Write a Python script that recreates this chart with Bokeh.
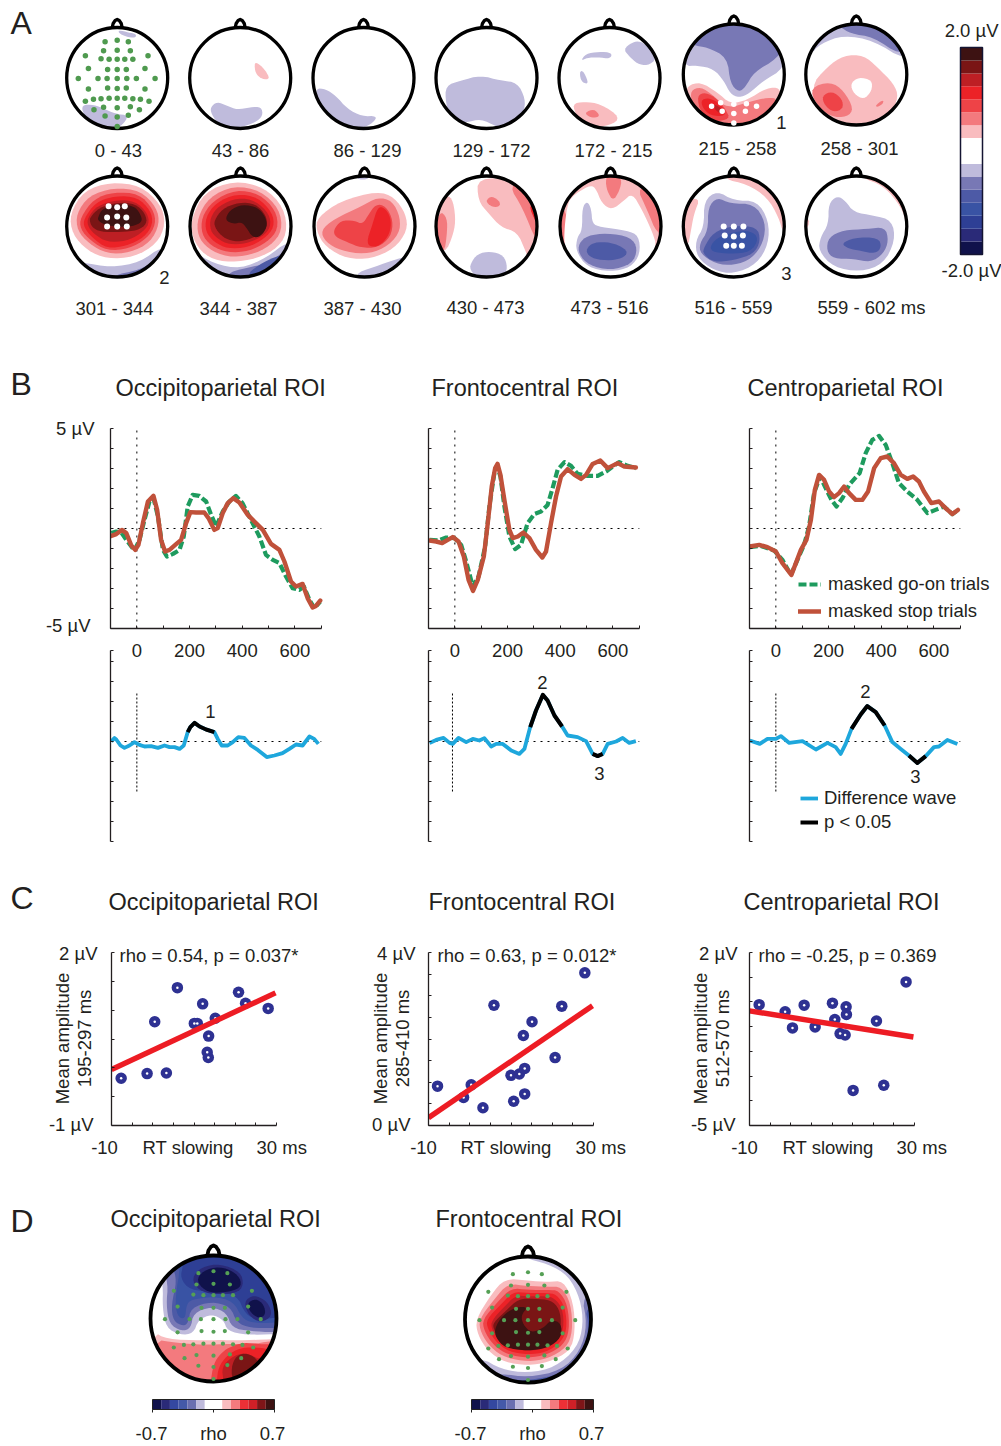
import numpy as np
from bokeh.plotting import figure
from bokeh.layouts import row, column
from bokeh.models import Range1d, LinearAxis, FixedTicker, Label, Legend, LegendItem, Spacer
from bokeh.core.properties import value
from bokeh.embed import file_html
from bokeh.resources import INLINE

FONT = "Liberation Sans"
INK = "#231f20"

# ---------- colour scale ----------
PAL = ["#10124b", "#2a2a78", "#2e3f95", "#3953a4", "#4d5aa6", "#7878b5", "#bfbbdc", "#ffffff",
       "#ffffff", "#f9bcbf", "#f37a7e", "#ee4347", "#ec2227", "#bd1f24", "#7a1515", "#3d1212"]
NVY, BL1, BL2, BL3, BL4, PUR, LIL, WHT, _W, PNK, SAL, RD1, RD2, RD3, RD4, RD5 = range(16)
BAR_EDGES = [-2.0, -1.75, -1.5, -1.25, -1.0, -0.75, -0.5, -0.25, 0.0, 0.25, 0.5, 0.75, 1.0, 1.25, 1.5, 1.75, 2.0]
RHO_EDGES = [-0.7, -0.6, -0.5, -0.4, -0.3, -0.2, -0.1, 0.0, 0.1, 0.2, 0.3, 0.4, 0.5, 0.6, 0.7]
RHO_PAL = ["#10124b", "#2a2a78", "#3448a0", "#4459a8", "#6a6fb0", "#bfbbdc", "#ffffff",
           "#ffffff", "#f9bcbf", "#f37a7e", "#ec3036", "#cf2027", "#7f1518", "#3d1212"]

# ---------- electrodes (head units) ----------
ELEC_X = [-.24, 0, .22, -.27, 0, .26, -.63, -.32, -.16, 0, .15, .31, .61, -.57, -.19, 0, .18, .55,
          -.77, -.38, -.2, 0, .19, .38, .75, -.57, -.19, 0, .18, .55, -.63, -.47, -.32, -.16, 0, .15, .31, .46, .63,
          -.46, -.27, 0, .26, .44, -.24, 0, .22, 0]
ELEC_Y = [.72, .75, .72, .54, .55, .54, .44, .38, .37, .37, .37, .37, .44, .19, .17, .17, .17, .19,
          -.01, -.01, -.01, -.01, -.01, -.01, -.01, -.22, -.2, -.21, -.2, -.22, -.46, -.42, -.41, -.40, -.40, -.40, -.41, -.42, -.46,
          -.63, -.58, -.59, -.57, -.63, -.75, -.77, -.74, -.96]
SIG1_X = [-.44, -.26, 0, .25, .45, -.23, 0, .23, 0]
SIG1_Y = [-.63, -.56, -.59, -.58, -.63, -.73, -.77, -.73, -.96]
SIG2_X = [-.17, 0, .15, -.2, 0, .18, -.2, 0, .19]
SIG2_Y = [.4, .38, .4, .18, .2, .18, 0, 0, 0]
SIG3_X = [-.2, 0, .19, -.18, 0, .18, -.15, 0, .16]
SIG3_Y = [0, 0, 0, -.18, -.2, -.18, -.38, -.38, -.38]
NOSE_X = [-.1, -.08, -.04, 0, .04, .08, .1]
NOSE_Y = [.99, 1.08, 1.14, 1.16, 1.14, 1.08, .99]

# ---------- scalp maps: contour outlines ----------
M_0_43 = [(LIL, [(-.71,-.53),(-.46,-.53),(-.26,-.61),(-.03,-.71),(.23,-.74),(.10,-.94),(-.07,-1.0),(-.40,-.94),(-.66,-.75)]),
          (LIL, [(.03,.95),(.23,.90),(.38,.87),(.36,.79),(.17,.82),(.03,.89)])]
M_43_86 = [(PNK, [(.28,.31),(.37,.28),(.50,.15),(.59,-.02),(.44,-.03),(.30,.09)]),
           (LIL, [(-.59,-.58),(-.46,-.47),(-.26,-.55),(-.06,-.63),(.2,-.58),(.42,-.57),(.45,-.75),(.30,-.88),(.01,-.98),(-.26,-.96),(-.46,-.88),(-.57,-.71)])]
M_86_129 = [(LIL, [(-.95,-.20),(-.75,-.22),(-.55,-.35),(-.32,-.61),(-.03,-.76),(.27,-.75),(.2,-.88),(-.03,-1.0),(-.32,-.97),(-.69,-.78),(-.92,-.51)])]
M_129_172 = [(LIL, [(-.81,-.15),(-.51,-.05),(-.12,.05),(.28,-.05),(.61,-.09),(.77,-.41),(.74,-.68),(.54,-.94),(.28,-1.0),(.21,-.96),(-.12,-.81),(-.38,-.88),(-.68,-.88),(-.81,-.5)])]
M_172_215 = [(LIL, [(.28,.57),(.45,.71),(.61,.73),(.78,.61),(.94,.38),(.75,.24),(.55,.28),(.38,.44)]),
             (LIL, [(-.57,.34),(-.47,.48),(-.21,.52),(.05,.5),(.02,.38),(-.24,.41),(-.44,.4)]),
             (LIL, [(-.57,.15),(-.5,.11),(-.41,-.12),(-.54,-.09),(-.59,.05)]),
             (PNK, [(-.74,-.51),(-.5,-.47),(-.18,-.51),(.22,-.78),(.02,-.94),(-.38,-.98),(-.64,-.78)]),
             (SAL, [(-.48,-.68),(-.31,-.61),(-.18,-.75),(-.31,-.79),(-.44,-.75)])]
M_215_258 = [(LIL, [(-.98,.16),(-.73,.18),(-.40,.11),(-.2,-.12),(-.07,-.38),(.1,-.46),(.3,-.38),(.59,-.12),(.99,.11),(1.19,.81),(0,1.2),(-1.19,.81)]),
             (PUR, [(-.79,.57),(-.53,.54),(-.13,.34),(-.07,-.18),(.1,-.35),(.23,-.25),(.4,.05),(.86,.31),(1.19,.81),(0,1.2),(-1.19,.81)]),
             (PNK, [(-.92,-.22),(-.66,-.15),(-.33,-.35),(-.07,-.58),(.26,-.51),(.66,-.26),(.92,-.26),(.92,-.51),(.66,-.84),(0,-1.08),(-.66,-.84),(-.96,-.45)]),
             (SAL, [(-.86,-.32),(-.66,-.24),(-.4,-.42),(-.13,-.68),(.4,-.51),(.76,-.45),(.86,-.51),(.59,-.81),(0,-1.08),(-.59,-.88),(-.83,-.58)]),
             (RD1, [(-.73,-.42),(-.56,-.35),(-.33,-.48),(-.17,-.68),(-.07,-.88),(-.4,-.94),(-.66,-.75)]),
             (RD2, [(-.66,-.51),(-.5,-.46),(-.26,-.58),(-.13,-.81),(-.4,-.83),(-.59,-.71)]),
             (RD3, [(-.43,-.58),(-.26,-.65),(-.2,-.78),(-.33,-.75)])]
M_258_301 = [(LIL, [(-.92,.38),(-.71,.61),(-.25,.78),(.34,.67),(.97,.28),(1.2,.6),(0,1.2),(-1.1,.8)]),
             (PUR, [(-.32,.95),(-.12,.81),(.34,.74),(.87,.38),(1.1,.6),(0,1.2),(-.5,1.0)]),
             (PNK, [(-.91,-.24),(-.58,.15),(-.25,.38),(.15,.38),(.41,.15),(.74,-.18),(.84,-.45),(.67,-.78),(.21,-1.01),(-.25,-1.0),(-.65,-.81)]),
             (WHT, [(-.12,-.18),(.05,-.05),(.31,-.11),(.31,-.32),(.15,-.5),(-.05,-.38)]),
             (SAL, [(-.91,-.26),(-.51,-.14),(-.25,-.32),(-.05,-.68),(-.18,-.84),(-.51,-.84),(-.81,-.58)]),
             (RD1, [(-.68,-.42),(-.48,-.33),(-.28,-.48),(-.26,-.68),(-.45,-.75),(-.63,-.61)]),
             (SAL, [(.38,-.61),(.53,-.5),(.53,-.58),(.41,-.65)])]
M_301_344 = [(LIL, [(-.69,-.71),(-.13,-.81),(.46,-.71),(.89,-.38),(1.2,-.6),(0,-1.2),(-1.1,-.7)]),
             (PUR, [(-.13,-.97),(.46,-.86),(.83,-.61),(1.2,-.6),(0,-1.2)]),
             (PNK, [(-.94,.25),(-.66,.71),(-.13,.88),(.46,.81),(.86,.45),(.96,.05),(.79,-.34),(.33,-.61),(-.2,-.64),(-.59,-.48),(-.89,-.15)]),
             (SAL, [(-.81,.25),(-.56,.61),(-.07,.77),(.46,.71),(.78,.38),(.84,.05),(.66,-.31),(.26,-.52),(-.2,-.54),(-.56,-.34),(-.79,-.08)]),
             (RD1, [(-.73,.18),(-.46,.55),(-.07,.68),(.43,.65),(.71,.35),(.77,.05),(.59,-.24),(.23,-.44),(-.2,-.48),(-.53,-.28),(-.73,-.05)]),
             (RD2, [(-.66,.15),(-.43,.48),(-.03,.61),(.4,.58),(.66,.32),(.71,.05),(.54,-.21),(.2,-.38),(-.2,-.44),(-.5,-.22),(-.66,-.01)]),
             (RD3, [(-.58,.18),(-.4,.41),(0,.53),(.36,.5),(.59,.28),(.64,.05),(.46,-.15),(.17,-.29),(-.2,-.31),(-.46,-.15),(-.59,.02)]),
             (RD4, [(-.54,.18),(-.36,.37),(0,.48),(.36,.45),(.56,.25),(.59,.05),(.4,-.08),(.07,-.11),(-.33,-.11),(-.5,-.01),(-.54,.09)]),
             (RD5, [(-.38,.18),(-.3,.35),(0,.45),(.33,.41),(.46,.25),(.5,.09),(.3,0),(0,-.01),(-.26,.04),(-.38,.12)])]
M_344_387 = [(LIL, [(-.95,-.48),(-.52,-.74),(0,-.84),(.53,-.61),(.94,-.28),(1.2,-.5),(0,-1.2),(-1.1,-.7)]),
             (PUR, [(-.32,-.94),(.14,-.81),(.53,-.74),(.93,-.44),(1.2,-.5),(0,-1.2)]),
             (BL4, [(.11,-.97),(.34,-.77),(.8,-.54),(1.2,-.6),(.5,-1.1)]),
             (PNK, [(-.98,.15),(-.72,.68),(-.13,.91),(.47,.78),(.86,.38),(.93,-.15),(.67,-.48),(.2,-.67),(-.32,-.71),(-.72,-.57),(-.95,-.24)]),
             (SAL, [(-.85,.18),(-.62,.58),(-.13,.81),(.4,.71),(.77,.35),(.83,-.08),(.6,-.38),(.2,-.57),(-.26,-.61),(-.65,-.44),(-.85,-.18)]),
             (RD1, [(-.77,.18),(-.55,.51),(-.09,.73),(.37,.65),(.7,.32),(.75,-.05),(.53,-.31),(.17,-.49),(-.26,-.52),(-.59,-.38),(-.77,-.15)]),
             (RD2, [(-.69,.18),(-.49,.47),(-.07,.65),(.34,.58),(.63,.28),(.67,-.01),(.48,-.24),(.14,-.42),(-.26,-.44),(-.52,-.31),(-.69,-.11)]),
             (RD3, [(-.6,.18),(-.42,.42),(-.05,.57),(.3,.51),(.57,.25),(.6,-.01),(.44,-.2),(.11,-.34),(-.22,-.36),(-.46,-.24),(-.6,-.08)]),
             (RD4, [(-.52,.12),(-.36,.35),(-.03,.48),(.3,.45),(.51,.22),(.53,-.01),(.39,-.16),(.07,-.29),(-.19,-.29),(-.39,-.18),(-.51,-.01)]),
             (RD5, [(-.31,.12),(-.22,.32),(.04,.44),(.34,.38),(.5,.18),(.53,-.01),(.4,-.2),(.24,-.22),(.11,-.01),(.01,.09),(-.12,.05)])]
M_387_430 = [(LIL, [(-.2,.93),(.13,.93),(0,1.2)]),
             (LIL, [(-.2,-.94),(.16,-.81),(.75,-.61),(1.2,-.5),(0,-1.2)]),
             (PNK, [(-.93,.18),(-.47,.51),(.26,.7),(.59,.58),(.82,.25),(.85,-.08),(.59,-.44),(.13,-.64),(-.34,-.64),(-.77,-.41),(-.96,-.08)]),
             (SAL, [(-.87,-.08),(-.6,.15),(-.04,.41),(.26,.58),(.55,.51),(.71,.18),(.69,-.15),(.39,-.44),(0,-.55),(-.47,-.48),(-.77,-.31)]),
             (RD1, [(-.62,-.08),(-.47,.12),(-.2,.12),(-.04,.04),(.09,.25),(.22,.44),(.42,.41),(.57,.12),(.52,-.21),(.26,-.42),(-.07,-.42),(-.34,-.31),(-.57,-.21)]),
             (RD2, [(.03,-.34),(.16,.05),(.26,.38),(.39,.38),(.52,.18),(.52,-.08),(.39,-.31),(.19,-.42)])]
M_430_473 = [(PNK, [(-.84,.61),(-.68,.58),(-.61,.18),(-.65,-.14),(-.82,-.54),(-1.1,-.4),(-1.1,.4)]),
             (SAL, [(-.94,.32),(-.78,.18),(-.78,-.14),(-.84,-.54),(-1.1,-.4)]),
             (PNK, [(-.18,.98),(-.17,.51),(.05,.25),(.28,-.01),(.61,-.11),(.77,-.48),(.87,-.74),(1.15,-.15),(1.15,.51),(.61,.91)]),
             (SAL, [(.44,.81),(.71,.38),(1.0,-.34),(1.15,-.2),(1.15,.6),(.8,.9)]),
             (RD2, [(.82,.45),(.99,.05),(1.1,0),(1.1,.4)]),
             (SAL, [(-.02,.51),(.11,.61),(.28,.48),(.24,.38),(.08,.4)]),
             (LIL, [(-.32,-.74),(-.18,-.54),(.08,-.49),(.34,-.57),(.42,-.81),(.34,-1.0),(.08,-1.05),(-.18,-1.0),(-.32,-.87)])]
M_473_516 = [(PNK, [(-1.1,-1.1),(1.1,-1.1),(1.1,1.1),(-1.1,1.1)]),
             (SAL, [(.5,.81),(.73,.32),(.92,-.15),(1.15,-.15),(1.15,.8)]),
             (SAL, [(-.9,.38),(-.85,0),(-.9,-.5),(-1.15,-.3),(-1.15,.3)]),
             (SAL, [(-.1,.94),(-.07,.71),(.05,.5),(.18,.71),(.23,.95),(0,1.1)]),
             (WHT, [(-.79,.58),(-.43,.81),(-.3,.78),(-.17,.45),(.03,.33),(.26,.51),(.43,.66),(.63,.32),(.83,-.11),(.92,-.41),(.66,-.81),(0,-1.04),(-.73,-.87),(-.92,-.41),(-.91,-.01),(-.86,.38)]),
             (LIL, [(-.46,.5),(-.38,.35),(-.36,.05),(-.2,-.01),(.33,-.08),(.56,-.18),(.59,-.54),(.4,-.81),(0,-.9),(-.46,-.81),(-.69,-.48),(-.66,-.21),(-.56,-.08),(-.56,.38)]),
             (PUR, [(-.63,-.34),(-.46,-.18),(-.07,-.13),(.4,-.21),(.54,-.44),(.43,-.74),(0,-.87),(-.43,-.77),(-.63,-.54)]),
             (BL4, [(-.48,-.44),(-.33,-.31),(0,-.31),(.3,-.44),(.33,-.57),(.1,-.67),(-.26,-.66),(-.45,-.57)])]
M_516_559 = [(PNK, [(-.66,.58),(-.79,.25),(-.86,-.15),(-.91,-.41),(-1.15,0),(-1.05,.51)]),
             (PNK, [(-.2,.94),(.26,.84),(.66,.58),(.89,.18),(.98,-.15),(1.15,0),(1,.78),(0,1.1)]),
             (LIL, [(-.59,.51),(-.33,.71),(0,.51),(.46,.51),(.69,.12),(.69,-.34),(.46,-.74),(0,-.94),(-.4,-.87),(-.73,-.61),(-.76,-.28),(-.59,-.01)]),
             (PUR, [(-.51,.38),(-.33,.58),(-.07,.45),(.4,.45),(.63,.09),(.59,-.31),(.36,-.64),(0,-.77),(-.36,-.74),(-.66,-.54),(-.68,-.34),(-.51,-.08)]),
             (BL4, [(-.59,-.41),(-.4,-.11),(0,.02),(.46,-.01),(.53,-.28),(.4,-.54),(0,-.67),(-.4,-.71),(-.61,-.54)]),
             (BL3, [(-.48,-.41),(-.33,-.22),(0,-.11),(.33,-.08),(.5,-.24),(.33,-.51),(-.07,-.54),(-.4,-.51)])]
M_559_602 = [(PNK, [(.11,.96),(.54,.81),(.9,.38),(1.0,0),(1.15,0),(1.0,.9),(0,1.15)]),
             (PNK, [(-.93,.2),(-.95,-.05),(-1.15,0)]),
             (LIL, [(-.55,.45),(-.38,.61),(-.22,.51),(-.05,.28),(.34,.22),(.71,.12),(.77,-.28),(.54,-.74),(.08,-.9),(-.45,-.81),(-.75,-.48),(-.71,-.21),(-.55,.05)]),
             (PUR, [(-.55,-.21),(-.25,-.07),(.21,-.05),(.57,-.01),(.64,-.28),(.54,-.54),(.28,-.71),(-.05,-.64),(-.45,-.64),(-.59,-.48)]),
             (BL4, [(-.3,-.34),(-.05,-.22),(.44,-.22),(.5,-.41),(.38,-.54),(.08,-.48),(-.15,-.44)])]
M_RHO_OCC = [(LIL, [(-.81,.17),(-.75,-.15),(-.53,-.26),(-.32,-.24),(-.24,-.02),(-.03,.07),(.16,-.02),(.22,-.2),(.53,-.26),(.96,-.25),(1.44,-.25),(1.44,1.47),(-1.23,1.47),(-.88,.84),(-.8,.53)]),
             (PUR, [(-.75,.22),(-.7,-.09),(-.51,-.2),(-.36,-.16),(-.32,.09),(-.03,.19),(.21,.09),(.29,-.15),(.59,-.2),(.96,-.22),(1.44,-.22),(1.44,1.47),(-1.23,1.47),(-.82,.85),(-.72,.55)]),
             (BL4, [(-.67,.22),(-.64,-.04),(-.48,-.12),(-.4,-.07),(-.36,.17),(-.03,.27),(.27,.19),(.37,-.07),(.59,-.15),(.96,-.15),(1.44,-.15),(1.44,1.47),(-.8,1.47),(-.66,.85),(-.58,.6)]),
             (BL3, [(-.61,.32),(-.58,.04),(-.45,-.02),(-.43,.22),(-.35,.3),(0,.35),(.32,.27),(.45,.01),(.61,-.07),(.96,-.07),(1.44,0),(1.44,1.47),(-.6,1.47),(-.52,.85)]),
             (BL2, [(-.53,.64),(-.37,.45),(0,.43),(.37,.38),(.51,.06),(.7,-.02),(.96,.01),(1.44,.05),(1.44,1.47),(-.45,1.47),(-.48,.85)]),
             (BL1, [(-.35,.64),(-.19,.82),(.11,.87),(.43,.74),(.48,.53),(.37,.4),(0,.38),(-.24,.45)]),
             (BL1, [(.48,.27),(.64,.38),(.86,.27),(.94,.04),(.75,-.07),(.56,.04)]),
             (NVY, [(-.27,.64),(-.11,.79),(.16,.82),(.4,.69),(.45,.51),(.29,.43),(0,.4),(-.19,.48)]),
             (NVY, [(.53,.24),(.67,.32),(.8,.22),(.83,.06),(.72,0),(.59,.09)]),
             (PNK, [(-.96,-.2),(-.75,-.33),(-.16,-.35),(.11,-.34),(.37,-.35),(.91,-.33),(1.44,-.3),(1.44,-1.4),(-1.23,-1.4)]),
             (SAL, [(-.94,-.33),(-.64,-.38),(-.16,-.42),(.27,-.4),(.59,-.41),(.91,-.36),(1.44,-.3),(1.44,-1.4),(-1.23,-1.4)]),
             (RD1, [(-.05,-1.03),(0,-.72),(.11,-.56),(.24,-.46),(.48,-.38),(.75,-.41),(.94,-.41),(1.44,-.41),(1.44,-1.4),(-.05,-1.4)]),
             (RD2, [(.05,-1),(.08,-.77),(.21,-.59),(.43,-.46),(.75,-.46),(.96,-.51),(1.44,-.51),(1.44,-1.4),(.05,-1.4)]),
             (RD3, [(.16,-1),(.13,-.77),(.29,-.61),(.48,-.54),(.8,-.67),(1.44,-.72),(1.44,-1.4),(.16,-1.4)]),
             (RD4, [(.29,-.98),(.29,-.72),(.4,-.56),(.59,-.56),(.75,-.72),(.7,-.88),(.48,-1.0)])]
M_RHO_FC = [(LIL, [(-.08,.98),(.32,.88),(.64,.7),(.83,.33),(.88,-.08),(.78,-.45),(.43,-.76),(0,-.85),(-.43,-.79),(-.75,-.6),(-1.3,-.7),(0,-1.3),(1.3,-1),(1.3,.5),(.7,1.2),(0,1.2)]),
            (PUR, [(.85,.39),(.94,-.08),(.83,-.5),(.53,-.81),(0,-.92),(-.43,-.86),(-.75,-.9),(-.8,-1.3),(1.3,-1),(1.3,.5)]),
            (BL4, [(.9,.2),(.97,-.1),(.87,-.55),(.56,-.86),(0,-.97),(-.3,-.95),(-.3,-1.3),(1.3,-1),(1.3,.2)]),
            (PNK, [(-.83,0),(-.59,.39),(-.37,.65),(0,.62),(.32,.59),(.56,.62),(.72,.28),(.75,-.19),(.67,-.5),(.32,-.68),(0,-.73),(-.37,-.68),(-.64,-.5),(-.8,-.24)]),
            (SAL, [(-.78,0),(-.53,.33),(-.32,.57),(0,.53),(.32,.52),(.53,.52),(.68,.26),(.71,-.19),(.61,-.45),(.32,-.62),(0,-.67),(-.35,-.61),(-.59,-.45),(-.75,-.21)]),
            (RD1, [(-.72,0),(-.48,.28),(-.27,.5),(0,.47),(.32,.47),(.49,.46),(.63,.23),(.66,-.17),(.56,-.41),(.3,-.56),(0,-.61),(-.32,-.56),(-.55,-.41),(-.7,-.17)]),
            (RD2, [(-.66,0),(-.43,.24),(-.24,.44),(0,.42),(.3,.42),(.45,.4),(.59,.2),(.62,-.15),(.52,-.37),(.28,-.52),(0,-.56),(-.3,-.51),(-.5,-.37),(-.64,-.15)]),
            (RD3, [(-.58,-.02),(-.38,.2),(-.2,.38),(0,.37),(.28,.37),(.42,.34),(.55,.17),(.57,-.13),(.48,-.33),(.25,-.47),(0,-.5),(-.28,-.46),(-.46,-.33),(-.58,-.15)]),
            (RD4, [(-.55,-.05),(-.35,.14),(-.15,.33),(.1,.33),(.36,.31),(.5,.17),(.53,-.1),(.45,-.3),(.23,-.42),(0,-.46),(-.25,-.42),(-.45,-.3),(-.55,-.15)]),
            (RD5, [(-.53,-.14),(-.4,.07),(-.19,.2),(0,.2),(-.11,.07),(-.08,-.08),(.05,-.21),(.24,-.14),(.37,0),(.53,-.06),(.53,-.29),(.32,-.45),(0,-.5),(-.37,-.45),(-.51,-.29)])]

# ---------- panel B: ERP waves ----------
OCC_STOP_T = [-97,-78,-57,-40,-21,-6,6,23,42,63,77,92,107,124,149,168,187,203,225,256,272,294,307,326,345,366,389,421,452,478,509,541,560,585,604,629,648,667,680,696]
OCC_STOP_V = [-.37,-.28,-.07,-.23,-.85,-1.07,-.82,.27,1.35,1.63,.93,-.57,-1.15,-1.07,-.78,-.57,.27,.82,.80,.80,.52,-.07,.02,.77,1.27,1.52,1.30,.68,.27,-.07,-.77,-1.07,-1.65,-2.65,-2.90,-2.77,-3.48,-3.95,-3.87,-3.60]
OCC_GO_T = [-97,-78,-59,-40,-9,10,29,48,63,80,99,114,137,162,178,193,212,237,263,282,301,326,351,376,401,433,465,490,516,541,566,591,617,634,655,674,696]
OCC_GO_V = [-.23,-.15,-.2,-.57,-1.1,-.57,.43,1.35,1.52,.6,-1.07,-1.4,-1.27,-1.07,-.4,1.1,1.68,1.63,1.35,.68,.1,.85,1.35,1.63,1.27,.43,-.4,-1.32,-1.57,-1.73,-2.4,-2.98,-3.07,-2.9,-3.57,-3.98,-3.65]
OCC_DIFF_T = [-97,-85,-78,-62,-47,-28,-9,10,29,54,80,105,124,143,162,178,193,203,219,238,263,294,307,322,345,364,385,408,433,459,493,522,553,579,604,629,655,673,689]
OCC_DIFF_V = [0,.17,.1,-.2,-.32,-.2,-.03,-.17,-.25,-.23,-.32,-.2,-.28,-.28,-.37,-.2,.47,.72,.93,.75,.6,.47,.13,-.2,-.2,-.03,.22,.18,-.2,-.42,-.78,-.7,-.58,-.37,-.15,-.2,.25,.13,-.12]
OCC_SIG = [(193, 294)]

FC_STOP_T = [-96,-71,-48,-27,-8,14,34,52,69,87,110,125,140,153,162,173,188,207,220,239,260,283,308,332,346,365,384,403,428,454,479,498,523,552,580,618,643,687]
FC_STOP_V = [-.6,-.65,-.73,-.57,-.43,-.65,-1.4,-2.57,-3.12,-2.57,-1.4,.27,2.1,3.02,3.23,2.68,1.43,-.07,-.48,-.4,-.2,-.48,-1.07,-1.45,-1.15,.27,1.6,2.6,2.97,2.68,2.48,2.68,3.23,3.4,3.02,3.27,3.1,3.05]
FC_GO_T = [-96,-64,-33,-1,24,43,68,90,115,131,150,160,173,188,207,229,251,276,302,327,352,371,390,416,441,466,504,542,574,599,624,656,687]
FC_GO_V = [-.57,-.6,-.45,-.48,-.82,-1.65,-2.9,-2.4,-.9,1.1,2.77,3.13,2.6,1.1,-.4,-1.03,-.82,.27,.73,.85,1.18,2.02,2.93,3.32,3.13,2.73,2.63,2.63,2.85,3.1,3.32,3.13,3.02]
FC_DIFF_T = [-96,-71,-43,-20,-8,14,43,68,93,112,138,157,182,214,245,264,286,308,334,352,378,407,428,466,498,523,542,561,580,612,637,662,687]
FC_DIFF_V = [-.07,.08,.18,-.07,-.12,.18,-.03,.13,.05,.17,-.25,-.12,-.12,-.45,-.62,-.37,.72,1.55,2.33,2.05,1.3,.75,.3,.22,.02,-.62,-.73,-.62,-.12,0,.18,-.07,.02]
FC_SIG = [(286, 407), (523, 561)]

CP_STOP_T = [-99,-63,-32,0,25,59,76,95,116,133,148,164,183,202,221,240,259,278,303,328,350,373,398,423,448,474,499,521,543,562,590,619,644,670,691]
CP_STOP_V = [-.9,-.82,-.93,-1.15,-1.73,-2.32,-1.73,-1.07,-.57,.43,1.93,2.68,2.43,1.85,1.57,1.77,2.1,1.77,1.43,1.43,1.85,3.02,3.52,3.6,3.27,2.68,2.48,2.6,2.35,1.85,1.27,1.35,1.02,.72,.93]
CP_GO_T = [-99,-57,-6,25,57,82,107,126,145,168,189,211,230,253,278,318,341,366,392,417,442,467,499,537,575,606,638,670,691]
CP_GO_V = [-.93,-.87,-1.1,-1.57,-2.32,-1.57,-.82,.1,1.77,2.6,2.02,1.43,1.1,1.52,2.18,2.77,3.77,4.43,4.63,4.18,3.27,2.27,1.85,1.43,.77,.93,1.1,.72,.93]
CP_DIFF_T = [-99,-61,-32,0,19,51,101,152,196,227,246,265,287,322,347,379,413,442,474,505,537,569,600,619,651,689]
CP_DIFF_V = [.05,-.12,.13,.13,.27,-.07,.02,-.4,-.07,-.28,-.62,-.12,.63,1.35,1.77,1.47,.8,-.03,-.37,-.7,-1.07,-.73,-.28,-.25,.08,-.12]
CP_SIG = [(287, 413), (505, 569)]

ERP_X_TICKS = [-100, 0, 100, 200, 300, 400, 500, 600, 700]
ERP_Y_TICKS = [-5, -4, -3, -2, -1, 0, 1, 2, 3, 4, 5]
DIFF_Y_TICKS = [-5, -4, -3, -2, -1, 0, 1, 2, 3, 4, 4.55]
ERP_LABEL_T = [0, 200, 400, 600]
ERP_LABELS = ["0", "200", "400", "600"]

# ---------- panel C: scatter ----------
RT_OCC = [-7.66,-1.37,3.31,.48,5.97,12.1,10.08,10.8,15.16,13.55,13.2,13.47,20.8,22.5,27.98]
AMP_OCC = [-.18,-.1,-.09,.8,1.39,1.11,.77,.77,.86,.55,.27,.18,1.31,1.12,1.03]
FIT_OCC_X, FIT_OCC_Y = [-10, 29.76], [-.03, 1.30]
RT_FC = [-7.81,-1.5,.36,3.2,5.87,10,12.02,13.32,10.65,13.32,13,15.1,20.69,22.31,27.9]
AMP_FC = [.91,.65,.94,.41,2.78,1.16,1.19,1.32,.56,.73,2.08,2.4,1.57,2.76,3.53]
FIT_FC_X, FIT_FC_Y = [-10, 29.76], [.18, 2.77]
RT_CP = [-7.66,-1.36,.42,3.25,5.91,10.11,10.68,11.97,13.18,13.42,13.5,20.78,15.12,22.55,27.96]
AMP_CP = [-.11,-.4,-1.05,-.13,-1.01,-.05,-.71,-1.28,-1.34,-.2,-.51,-.77,-3.58,-3.37,.81]
FIT_CP_X, FIT_CP_Y = [-10, 29.74], [-.36, -1.42]
RT_TICKS = [-10, -5, 0, 5, 10, 15, 20, 25, 30]

BOX = {}


def chaikin(pts, n=2):
    a = np.array(pts, float)
    for _ in range(n):
        b = np.roll(a, -1, axis=0)
        a = np.column_stack([0.75 * a + 0.25 * b, 0.25 * a + 0.75 * b]).reshape(-1, 2)
    return a


def span(v0, p0, v1, p1, start, end):
    """Range of a frame running from page pixel start to end, where value v0 sits at p0 and v1 at p1."""
    per = (v1 - v0) / (p1 - p0)
    return (v0 + (start - p0) * per, v0 + (end - p0) * per)


def make_fig(left, top, w, h, xr, yr, frame=None):
    fl, ft, fr, fb = frame if frame else (left, top, left + w, top + h)
    p = figure(width=w, height=h, x_range=Range1d(*xr), y_range=Range1d(*yr),
               toolbar_location=None, output_backend="svg",
               x_axis_location=None, y_axis_location=None,
               min_border_left=fl - left, min_border_top=ft - top,
               min_border_right=left + w - fr, min_border_bottom=top + h - fb,
               outline_line_color=None, background_fill_color=None, border_fill_color="white")
    p.grid.visible = False
    BOX[id(p)] = (fl, fb)
    return p


def strip(left, top, w, h):
    return make_fig(left, top, w, h, (0, w), (0, h))


def txt(p, px, py, text, size=18.5, align="left", angle=0.0):
    fl, fb = BOX[id(p)]
    p.add_layout(Label(x=px - fl, y=fb - py, x_units="screen", y_units="screen", text=text,
                       text_font=FONT, text_font_size=f"{size}px", text_color=INK,
                       text_align=align, text_baseline="middle", angle=angle, angle_units="deg"))


def scalp(left, top, w, h, cx, cy, r, layers, lw=3.3):
    p = make_fig(left, top, w, h, ((left - cx) / r, (left + w - cx) / r), ((cy - top - h) / r, (cy - top) / r))
    for lev, pts in layers:
        a = chaikin(pts)
        p.patch(a[:, 0], a[:, 1], fill_color=PAL[lev], line_color=None)
    p.annulus(x=[0], y=[0], inner_radius=1.0, outer_radius=5.0, fill_color="white", line_color=None)
    p.line(NOSE_X, NOSE_Y, line_color="black", line_width=lw, line_join="round")
    p.circle(x=[0], y=[0], radius=1.0, fill_color=None, line_color="black", line_width=lw)
    return p


def add_axis(p, ticks, bounds, side):
    ax = LinearAxis(ticker=FixedTicker(ticks=ticks), bounds=bounds, major_tick_in=3, major_tick_out=0,
                    minor_tick_line_color=None, major_label_overrides={t: "" for t in ticks},
                    major_label_text_font_size="1px", major_label_standoff=0,
                    axis_line_color=INK, major_tick_line_color=INK, axis_line_width=1.3, major_tick_line_width=1)
    p.add_layout(ax, side)


# ---------- PANEL A ----------
EDGE_X = [0, 178, 301, 425, 548, 672, 794, 930]
R1_TOP, R1_H, R2_TOP, R2_H = 0, 162, 162, 176
R_A = 50.5
ROW1 = [(116.7, 77.5, M_0_43, "0 - 43", 118, 150), (239.7, 77.5, M_43_86, "43 - 86", 240, 150),
        (363, 77.5, M_86_129, "86 - 129", 367, 150), (486, 77.5, M_129_172, "129 - 172", 491, 150),
        (609, 77.5, M_172_215, "172 - 215", 613, 150), (733.3, 74, M_215_258, "215 - 258", 737, 148),
        (855.8, 74, M_258_301, "258 - 301", 859, 148)]
ROW2 = [(116.7, 226, M_301_344, "301 - 344", 114, 308), (240, 226, M_344_387, "344 - 387", 238, 308),
        (364, 226, M_387_430, "387 - 430", 362, 308), (486, 226, M_430_473, "430 - 473", 485, 307),
        (610, 226, M_473_516, "473 - 516", 609, 307), (733.3, 226, M_516_559, "516 - 559", 733, 307),
        (855.8, 226, M_559_602, "559 - 602 ms", 871, 307)]

figs1, figs2 = [], []
for i, (cx, cy, lay, name, lx, ly) in enumerate(ROW1):
    p = scalp(EDGE_X[i], R1_TOP, EDGE_X[i + 1] - EDGE_X[i], R1_H, cx, cy, R_A, lay)
    txt(p, lx, ly, name, align="center")
    figs1.append(p)
for i, (cx, cy, lay, name, lx, ly) in enumerate(ROW2):
    p = scalp(EDGE_X[i], R2_TOP, EDGE_X[i + 1] - EDGE_X[i], R2_H, cx, cy, R_A, lay)
    txt(p, lx, ly, name, align="center")
    figs2.append(p)
figs1[0].scatter(ELEC_X, ELEC_Y, size=5.5, color="#4f9a4f", line_color=None)
figs1[5].scatter(SIG1_X, SIG1_Y, size=5.5, color="white", line_color=None)
figs2[0].scatter(SIG2_X, SIG2_Y, size=6, color="white", line_color=None)
figs2[5].scatter(SIG3_X, SIG3_Y, size=6, color="white", line_color=None)
txt(figs1[0], 10, 22, "A", size=32)
txt(figs1[5], 781, 122, "1", align="center")
txt(figs2[0], 164, 277, "2", align="center")
txt(figs2[5], 786, 273, "3", align="center")

cb = make_fig(930, 0, 71, 338, span(0, 960, 1, 982, 930, 1001), span(2, 47, -2, 254, 338, 0))
cb.quad(left=0, right=1, bottom=BAR_EDGES[:-1], top=BAR_EDGES[1:], fill_color=PAL, line_color=None)
cb.quad(left=[0], right=[1], bottom=[-2], top=[2], fill_color=None, line_color="#141432", line_width=1.5)
txt(cb, 998, 30, "2.0 µV", align="right")
txt(cb, 1001, 270, "-2.0 µV", align="right")

# ---------- PANEL B ----------
GREEN, BRICK, SKY = "#1e9b5e", "#c0513a", "#1ea7dc"
MS_PX = 0.2635
# gutter left, plot left edge (spine - 1), plot right
COLS = [(0, 109, 345), (345, 427, 662), (662, 748, 1001)]
BT_TOP, BT_BOT, BB_BOT = 414, 636, 862
DATA_B = [(OCC_GO_T, OCC_GO_V, OCC_STOP_T, OCC_STOP_V, OCC_DIFF_T, OCC_DIFF_V, OCC_SIG, 0),
          (FC_GO_T, FC_GO_V, FC_STOP_T, FC_STOP_V, FC_DIFF_T, FC_DIFF_V, FC_SIG, -9),
          (CP_GO_T, CP_GO_V, CP_STOP_T, CP_STOP_V, CP_DIFF_T, CP_DIFF_V, CP_SIG, 0)]
strip_b = strip(0, 338, 1001, BT_TOP - 338)
txt(strip_b, 10, 383, "B", size=32)
txt(strip_b, 115, 387, "Occipitoparietal ROI", size=23.5)
txt(strip_b, 431, 387, "Frontocentral ROI", size=23.5)
txt(strip_b, 747, 387, "Centroparietal ROI", size=23.5)

row_bt, row_bb = [], []
b_top, b_bot = [], []
for (g, L, R), (gt, gv, st, sv, dt, dv, sig, z0) in zip(COLS, DATA_B):
    fl = L + 1
    gut_t = strip(g, BT_TOP, L - g, BT_BOT - BT_TOP)
    gut_b = strip(g, BT_BOT, L - g, BB_BOT - BT_BOT)
    xr = span(-100, fl, 700, fl + 800 * MS_PX, fl, R)
    pt = make_fig(L, BT_TOP, R - L, BT_BOT - BT_TOP, xr, span(5, 428, -5, 628, 628, BT_TOP),
                  frame=(fl, BT_TOP, R, 628))
    add_axis(pt, ERP_Y_TICKS, (-5, 5), "left")
    add_axis(pt, ERP_X_TICKS, (-100, 700), "below")
    pt.line([-100, 700], [0, 0], line_color="black", line_width=1, line_dash="2 5")
    pt.line([0, 0], [-5, 5], line_color="black", line_width=1, line_dash="2 5")
    r_go = pt.line(gt, gv, line_color=GREEN, line_width=4.2, line_dash="8 3", line_join="round")
    r_stop = pt.line(st, sv, line_color=BRICK, line_width=4.4, line_join="round", line_cap="round")

    pb = make_fig(L, BT_BOT, R - L, BB_BOT - BT_BOT, xr, span(0, 741, -5, 841, BB_BOT, BT_BOT),
                  frame=(fl, BT_BOT, R, BB_BOT))
    add_axis(pb, DIFF_Y_TICKS, (-5, 4.55), "left")
    pb.line([-100, 700], [0, 0], line_color="black", line_width=1, line_dash="2 5")
    pb.line([z0, z0], [-2.5, 2.5], line_color="black", line_width=1, line_dash="2 2")
    r_diff = pb.line(dt, dv, line_color=SKY, line_width=3.8, line_join="round")
    dt_a, dv_a = np.array(dt), np.array(dv)
    r_sig = None
    for a, b in sig:
        m = (dt_a >= a) & (dt_a <= b)
        r_sig = pb.line(dt_a[m], dv_a[m], line_color="black", line_width=4, line_join="round")
    pb.text(x=ERP_LABEL_T, y=[4.55] * 4, text=ERP_LABELS, text_font=value(FONT), text_font_size="18.5px",
            text_color=INK, text_align="center", text_baseline="middle")
    row_bt += [column(gut_t), pt]
    row_bb += [column(gut_b), pb]
    b_top.append((pt, r_go, r_stop, gut_t))
    b_bot.append((pb, r_diff, r_sig))

txt(b_top[0][3], 94, 428, "5 µV", align="right")
txt(b_top[0][3], 90, 625, "-5 µV", align="right")
txt(b_bot[0][0], 210, 711, "1", align="center")
txt(b_bot[1][0], 542, 682, "2", align="center")
txt(b_bot[1][0], 599, 773, "3", align="center")
txt(b_bot[2][0], 865, 691, "2", align="center")
txt(b_bot[2][0], 915, 776, "3", align="center")

pt, r_go, r_stop, _g = b_top[2]
leg = Legend(items=[LegendItem(label="masked go-on trials", renderers=[r_go]),
                    LegendItem(label="masked stop trials", renderers=[r_stop])],
             location=(49, 6), orientation="vertical", padding=0, margin=0, spacing=5,
             glyph_width=23, glyph_height=20, label_height=20, label_standoff=7,
             label_text_font=FONT, label_text_font_size="18.5px", label_text_color=INK,
             background_fill_alpha=0, border_line_color=None)
pt.add_layout(leg)
pb, r_diff, r_sig = b_bot[2]
leg2 = Legend(items=[LegendItem(label="Difference wave", renderers=[r_diff]),
                     LegendItem(label="p < 0.05", renderers=[r_sig])],
              location=(51, 29), orientation="vertical", padding=0, margin=0, spacing=2,
              glyph_width=18, glyph_height=20, label_height=20, label_standoff=6,
              label_text_font=FONT, label_text_font_size="18.5px", label_text_color=INK,
              background_fill_alpha=0, border_line_color=None)
pb.add_layout(leg2)

# ---------- PANEL C ----------
C_STRIP_TOP, C_TOP, C_BOT, C_END = 862, 940, 1135, 1172
C_COLS = [(0, 110, 345), (345, 427, 665), (665, 748, 1001)]
DATA_C = [((-1, 2), [-1, -.5, 0, .5, 1, 1.5, 2], RT_OCC, AMP_OCC, FIT_OCC_X, FIT_OCC_Y,
           "rho = 0.54, p = 0.037*", 119, "2 µV", 97, "-1 µV", 93, "195-297 ms", 62, 84),
          ((0, 4), [0, .5, 1, 1.5, 2, 2.5, 3, 3.5, 4], RT_FC, AMP_FC, FIT_FC_X, FIT_FC_Y,
           "rho = 0.63, p = 0.012*", 437, "4 µV", 415, "0 µV", 410, "285-410 ms", 380, 402),
          ((-5, 2), [-5, -4, -3, -2, -1, 0, 1, 2], RT_CP, AMP_CP, FIT_CP_X, FIT_CP_Y,
           "rho = -0.25, p = 0.369", 758, "2 µV", 737, "-5 µV", 735, "512-570 ms", 700, 722)]
strip_c = strip(0, C_STRIP_TOP, 1001, C_TOP - C_STRIP_TOP)
txt(strip_c, 10, 897, "C", size=32)
txt(strip_c, 108, 901, "Occipitoparietal ROI", size=23.5)
txt(strip_c, 428, 901, "Frontocentral ROI", size=23.5)
txt(strip_c, 743, 901, "Centroparietal ROI", size=23.5)
row_c = []
for (g, L, R), (yr, yt, rt, amp, fx, fy, rho, rx, hi, hx, lo, lx, win, ax1, ax2) in zip(C_COLS, DATA_C):
    fl = L + 1
    gut = strip(g, C_TOP, L - g, C_BOT - C_TOP)
    p = make_fig(L, C_TOP, R - L, C_BOT - C_TOP, span(-10, fl, 30, fl + 165, fl, R),
                 span(yr[1], 952, yr[0], 1125, 1125, C_TOP), frame=(fl, C_TOP, R, 1125))
    add_axis(p, yt, yr, "left")
    add_axis(p, RT_TICKS, (-10, 30), "below")
    p.scatter(rt, amp, size=11.5, color="#2e3192", line_color=None)
    p.scatter(rt, amp, size=2.5, color="white", line_color=None)
    p.line(fx, fy, line_color="#ed1c24", line_width=5.4)
    txt(p, rx, 955, rho)
    txt(gut, hx, 953, hi, align="right")
    txt(gut, lx, 1124, lo, align="right")
    txt(gut, ax1, 1038, "Mean amplitude", align="center", angle=90)
    txt(gut, ax2, 1038, win, align="center", angle=90)
    row_c += [column(gut), p]
strip_c2 = strip(0, C_BOT, 1001, C_END - C_BOT)
for m10, rtx, msx in [(104, 142, 256), (423, 460, 575), (744, 782, 896)]:
    txt(strip_c2, m10, 1147, "-10", align="center")
    txt(strip_c2, rtx, 1147, "RT slowing")
    txt(strip_c2, msx, 1147, "30 ms")

# ---------- PANEL D ----------
D_TOP, D_H = 1172, 223
R_D = 63.0
d1 = scalp(0, D_TOP, 370, D_H, 213, 1318, R_D, M_RHO_OCC, lw=3.8)
d2 = scalp(370, D_TOP, 362, D_H, 527.5, 1319, R_D, M_RHO_FC, lw=3.8)
for d in (d1, d2):
    d.scatter(ELEC_X, ELEC_Y, size=4.2, color="#55a055", line_color=None)
txt(d1, 10, 1220, "D", size=32)
txt(d1, 110, 1218, "Occipitoparietal ROI", size=23.5)
txt(d2, 435, 1218, "Frontocentral ROI", size=23.5)


def rho_bar(left, w, fl, fr):
    p = make_fig(left, 1395, w, 51, span(-.7, fl, .7, fr, left, left + w), span(1, 1399, 0, 1409, 1446, 1395))
    p.quad(bottom=0, top=1, left=RHO_EDGES[:-1], right=RHO_EDGES[1:], fill_color=RHO_PAL, line_color=None)
    p.quad(left=[-.7], right=[.7], bottom=[0], top=[1], fill_color=None, line_color="#222222", line_width=1)
    p.segment(x0=[-.7, 0, .7], x1=[-.7, 0, .7], y0=[-.3, -.3, -.3], y1=[0, 0, 0], line_color="#222222", line_width=1)
    txt(p, fl - 1, 1433, "-0.7", align="center")
    txt(p, (fl + fr) / 2, 1433, "rho", align="center")
    txt(p, fr - 2, 1433, "0.7", align="center")
    return p


bar1 = rho_bar(0, 370, 152, 274)
bar2 = rho_bar(370, 362, 471, 593)

# ---------- page ----------
page = column(
    row(column(row(*figs1, spacing=0), row(*figs2, spacing=0), spacing=0), cb, spacing=0),
    strip_b,
    row(*row_bt, spacing=0),
    row(*row_bb, spacing=0),
    strip_c,
    row(*row_c, spacing=0),
    strip_c2,
    row(d1, d2, Spacer(width=269, height=D_H), spacing=0),
    row(bar1, bar2, Spacer(width=269, height=51), spacing=0),
    spacing=0)

open("out.html", "w").write(file_html(page, INLINE))
